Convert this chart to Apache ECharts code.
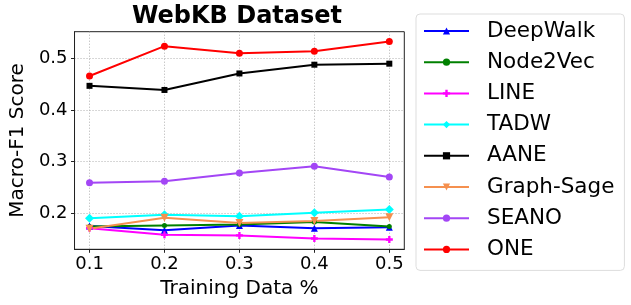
<!DOCTYPE html>
<html>
<head>
<meta charset="utf-8">
<script src="https://cdn.jsdelivr.net/npm/echarts@6/dist/echarts.min.js"></script>
<style>
html,body{margin:0;padding:0;background:#fff;}
#chart{width:631px;height:305px;}
</style>
</head>
<body>
<div id="chart"></div>
<script>
const titleText = 'WebKB Dataset';
const xName = 'Training Data %';
const yName = 'Macro-F1 Score';
const xValues = [0.1, 0.2, 0.3, 0.4, 0.5];
const xTicks = [0.1, 0.2, 0.3, 0.4, 0.5];
const yTicks = [0.2, 0.3, 0.4, 0.5];
const seriesNames = ['DeepWalk', 'Node2Vec', 'LINE', 'TADW', 'AANE', 'Graph-Sage', 'SEANO', 'ONE'];
const deepWalk  = [0.175, 0.167, 0.176, 0.171, 0.173];
const node2Vec  = [0.174, 0.176, 0.178, 0.183, 0.174];
const lineVals  = [0.171, 0.158, 0.157, 0.151, 0.149];
const tadw      = [0.190, 0.197, 0.194, 0.201, 0.207];
const aane      = [0.447, 0.439, 0.471, 0.488, 0.490];
const graphSage = [0.170, 0.191, 0.181, 0.185, 0.192];
const seano     = [0.259, 0.262, 0.278, 0.291, 0.270];
const one       = [0.466, 0.524, 0.510, 0.514, 0.533];

const allValues = [deepWalk, node2Vec, lineVals, tadw, aane, graphSage, seano, one];
const colors = ['#0000ff', '#008000', '#ff00ff', '#00ffff', '#000000', '#f5904f', '#a346f5', '#ff0000'];
const plusPath = 'path://M1,0H2V1H3V2H2V3H1V2H0V1H1Z';
const symbols = ['triangle', 'circle', plusPath, 'diamond', 'rect', 'path://M0,0H2L1,2Z', 'circle', 'circle'];
const symbolSizes = [7, 5, 7, 9, 6, 8, 7, 7];

const FONT = 'DejaVu Sans';
const chart = echarts.init(document.getElementById('chart'), null, {renderer: 'canvas'});

const series = seriesNames.map((name, i) => ({
  name: name,
  type: 'line',
  data: xValues.map((x, j) => [x, allValues[i][j]]),
  symbol: symbols[i],
  symbolSize: symbolSizes[i],
  showAllSymbol: true,
  lineStyle: {color: colors[i], width: 2},
  itemStyle: {color: colors[i]},
  emphasis: {disabled: true},
  animation: false
}));

chart.setOption({
  animation: false,
  textStyle: {fontFamily: FONT},
  graphic: [{
    type: 'text',
    x: 237,
    y: 17,
    style: {
      text: titleText,
      font: 'bold 24px "DejaVu Sans"',
      fill: '#000',
      textAlign: 'center',
      textVerticalAlign: 'middle'
    }
  }],
  grid: {
    left: 69.3, right: 226.7, top: 31.7, bottom: 55.7,
    show: true, borderColor: '#222', borderWidth: 1,
    containLabel: false
  },
  legend: {
    orient: 'vertical',
    left: 416,
    top: 14,
    padding: [6, 10, 10, 7],
    itemGap: 9.2,
    itemWidth: 45,
    itemHeight: 9,
    backgroundColor: '#fff',
    borderColor: '#dddddd',
    borderWidth: 1,
    borderRadius: 4,
    textStyle: {fontFamily: FONT, fontSize: 21.5, color: '#000', padding: [0, 0, 0, 13]},
    data: seriesNames
  },
  xAxis: {
    type: 'value',
    min: 0.08,
    max: 0.52,
    name: xName,
    nameLocation: 'middle',
    nameGap: 29,
    nameTextStyle: {fontFamily: FONT, fontSize: 20, color: '#000'},
    axisLine: {show: true, onZero: false, lineStyle: {color: '#222'}},
    axisTick: {show: true, customValues: xTicks, length: 3.5, lineStyle: {color: '#222'}},
    axisLabel: {customValues: xTicks, fontFamily: FONT, fontSize: 18, color: '#000', margin: 6,
      formatter: v => v.toFixed(1)},
    splitLine: {show: true, customValues: xTicks, lineStyle: {color: '#b0b0b0', type: [1, 2], width: 1}}
  },
  yAxis: {
    type: 'value',
    min: 0.130,
    max: 0.552,
    name: yName,
    nameLocation: 'middle',
    nameGap: 44,
    nameTextStyle: {fontFamily: FONT, fontSize: 20, color: '#000'},
    axisLine: {show: true, onZero: false, lineStyle: {color: '#222'}},
    axisTick: {show: true, customValues: yTicks, length: 3.5, lineStyle: {color: '#222'}},
    axisLabel: {customValues: yTicks, fontFamily: FONT, fontSize: 18, color: '#000', margin: 7,
      formatter: v => v.toFixed(1)},
    splitLine: {show: true, customValues: yTicks, lineStyle: {color: '#b0b0b0', type: [1, 2], width: 1}}
  },
  series: series
});
</script>
</body>
</html>
